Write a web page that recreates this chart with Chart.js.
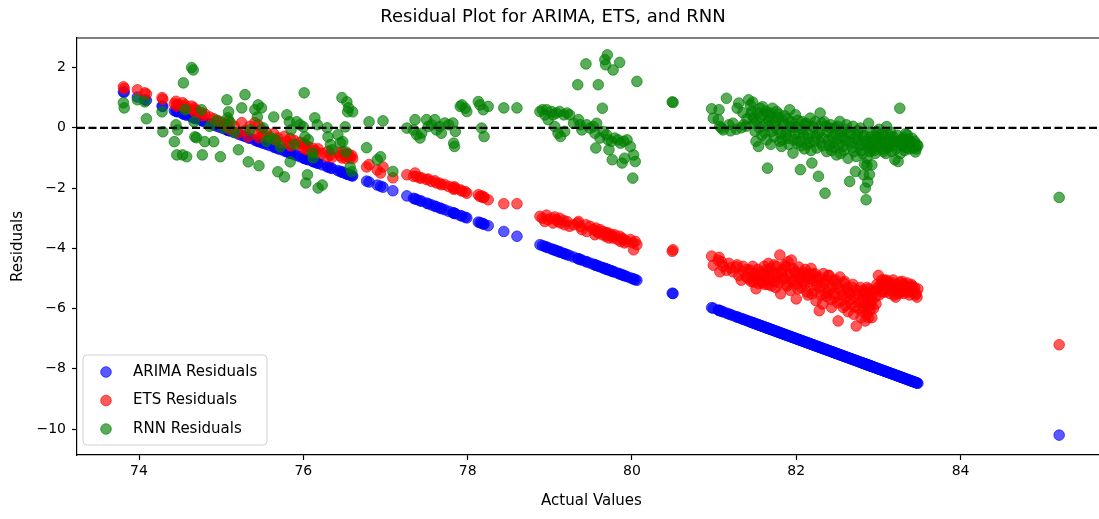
<!DOCTYPE html>
<html>
<head>
<meta charset="utf-8">
<title>Residual Plot for ARIMA, ETS, and RNN</title>
<script src="https://cdn.jsdelivr.net/npm/chart.js@4.4.0/dist/chart.umd.min.js"></script>
<style>
  html, body { margin: 0; padding: 0; background: #fff; overflow: hidden; }
  #wrap { width: 1184px; height: 519px; }
</style>
</head>
<body>
<div id="wrap"><canvas id="chart" width="1184" height="519"></canvas></div>
<script>
// actual values (x) shared by the three residual series
const actualValues = [
  73.81, 73.82, 73.98, 74.07, 74.09, 74.28, 74.29,
  74.43, 74.45, 74.46, 74.47, 74.53, 74.54, 74.56, 74.58, 74.64, 74.66,
  74.67, 74.68, 74.70, 74.76, 74.77, 74.80, 74.86, 74.91, 74.95, 74.99,
  75.03, 75.07, 75.08, 75.09, 75.11, 75.16, 75.21, 75.25, 75.29, 75.33,
  75.35, 75.41, 75.44, 75.45, 75.46, 75.49, 75.51, 75.55, 75.59, 75.64,
  75.66, 75.69, 75.72, 75.77, 75.80, 75.83, 75.84, 75.85, 75.89, 75.92,
  75.96, 76.00, 76.01, 76.02, 76.03, 76.05, 76.06, 76.11, 76.12, 76.14,
  76.17, 76.18, 76.23, 76.29, 76.30, 76.33, 76.35, 76.42, 76.45, 76.47,
  76.48, 76.51, 76.52, 76.53, 76.54, 76.55, 76.57, 76.59, 76.60,
  76.77, 76.80, 76.90, 76.94, 76.97, 77.09,
  77.26, 77.34, 77.36, 77.38, 77.42, 77.44, 77.50, 77.52, 77.56, 77.60,
  77.62, 77.66, 77.68, 77.72, 77.77, 77.82, 77.83, 77.84, 77.85, 77.91,
  77.93, 77.97, 77.99, 78.13, 78.15, 78.17, 78.19, 78.20, 78.25,
  78.44, 78.60,
  78.88, 78.91, 78.94, 78.96, 78.98, 79.02, 79.04, 79.06, 79.08, 79.10,
  79.12, 79.13, 79.17, 79.18, 79.21, 79.24, 79.29, 79.34, 79.35, 79.37,
  79.39, 79.44, 79.45, 79.49, 79.53, 79.55, 79.56, 79.57, 79.59, 79.61,
  79.64, 79.65, 79.67, 79.68, 79.69, 79.70, 79.71, 79.72, 79.75, 79.76,
  79.77, 79.79, 79.83, 79.85, 79.86, 79.88, 79.90, 79.91, 79.94, 79.98,
  80.01, 80.02, 80.04, 80.06,
  80.49, 80.50,
  80.97, 80.99, 81.05, 81.07, 81.09, 81.11, 81.15, 81.18, 81.23, 81.27,
  81.30, 81.33, 81.36, 81.39, 81.42, 81.44, 81.46, 81.48, 81.50, 81.51,
  81.52, 81.54, 81.56, 81.58, 81.60, 81.62, 81.64, 81.65, 81.66, 81.68,
  81.69, 81.70, 81.72, 81.74, 81.76, 81.78, 81.80, 81.81, 81.82, 81.84,
  81.86, 81.88, 81.90, 81.92, 81.93, 81.94, 81.96, 81.97, 81.99, 82.00,
  82.01, 82.03, 82.05, 82.06, 82.07, 82.09, 82.11, 82.13, 82.15, 82.17,
  82.18, 82.19, 82.21, 82.23, 82.24, 82.25, 82.27, 82.28, 82.29, 82.31,
  82.32, 82.33, 82.35, 82.36, 82.37, 82.39, 82.41, 82.43, 82.45, 82.47,
  82.49, 82.51, 82.53, 82.54, 82.55, 82.57, 82.59, 82.61, 82.62, 82.63,
  82.65, 82.67, 82.69, 82.70, 82.72, 82.73, 82.74, 82.76, 82.78, 82.79,
  82.80, 82.82, 82.83, 82.84, 82.85, 82.86, 82.86, 82.87, 82.88, 82.89,
  82.90, 82.91, 82.92, 82.93, 82.94, 82.96, 82.98, 83.00, 83.02, 83.04,
  83.06, 83.08, 83.10, 83.11, 83.12, 83.14, 83.16, 83.18, 83.20, 83.21,
  83.22, 83.24, 83.25, 83.26, 83.28, 83.30, 83.32, 83.35, 83.37, 83.39,
  83.41, 83.43, 83.45, 83.47, 83.48,
  81.06, 81.20, 81.28, 81.35, 81.40, 81.45, 81.47, 81.49, 81.53, 81.55,
  81.57, 81.59, 81.61, 81.63, 81.66, 81.67, 81.71, 81.73, 81.75, 81.77,
  81.79, 81.83, 81.85, 81.87, 81.89, 81.91, 81.95, 81.98, 82.02, 82.04,
  82.08, 82.10, 82.12, 82.14, 82.16, 82.20, 82.22, 82.26, 82.30, 82.34,
  82.38, 82.40, 82.42, 82.44, 82.46, 82.48, 82.50, 82.52, 82.56, 82.58,
  82.60, 82.64, 82.66, 82.68, 82.71, 82.75, 82.77, 82.81, 82.81, 82.83,
  82.85, 82.87, 82.88, 82.90, 82.92, 82.95, 82.97, 82.99, 83.01, 83.03,
  83.05, 83.07, 83.09, 83.13, 83.15, 83.17, 83.19, 83.23, 83.27, 83.29,
  83.31, 83.33, 83.34, 83.36, 83.38, 83.40, 83.42, 83.44, 83.46,
  85.20
];

const arimaResiduals = [
  1.19, 1.18, 1.02, 0.93, 0.91, 0.72, 0.71,
  0.57, 0.55, 0.54, 0.53, 0.47, 0.46, 0.44, 0.42, 0.36, 0.34,
  0.33, 0.32, 0.30, 0.24, 0.23, 0.20, 0.14, 0.09, 0.05, 0.01,
  -0.03, -0.07, -0.08, -0.09, -0.11, -0.16, -0.21, -0.25, -0.29, -0.33,
  -0.35, -0.41, -0.44, -0.45, -0.46, -0.49, -0.51, -0.55, -0.59, -0.64,
  -0.66, -0.69, -0.72, -0.77, -0.80, -0.83, -0.84, -0.85, -0.89, -0.92,
  -0.96, -1.00, -1.01, -1.02, -1.03, -1.05, -1.06, -1.11, -1.12, -1.14,
  -1.17, -1.18, -1.23, -1.29, -1.30, -1.33, -1.35, -1.42, -1.45, -1.47,
  -1.48, -1.51, -1.52, -1.53, -1.54, -1.55, -1.57, -1.59, -1.60,
  -1.77, -1.80, -1.90, -1.94, -1.97, -2.09,
  -2.26, -2.34, -2.36, -2.38, -2.42, -2.44, -2.50, -2.52, -2.56, -2.60,
  -2.62, -2.66, -2.68, -2.72, -2.77, -2.82, -2.83, -2.84, -2.85, -2.91,
  -2.93, -2.97, -2.99, -3.13, -3.15, -3.17, -3.19, -3.20, -3.25,
  -3.44, -3.60,
  -3.88, -3.91, -3.94, -3.96, -3.98, -4.02, -4.04, -4.06, -4.08, -4.10,
  -4.12, -4.13, -4.17, -4.18, -4.21, -4.24, -4.29, -4.34, -4.35, -4.37,
  -4.39, -4.44, -4.45, -4.49, -4.53, -4.55, -4.56, -4.57, -4.59, -4.61,
  -4.64, -4.65, -4.67, -4.68, -4.69, -4.70, -4.71, -4.72, -4.75, -4.76,
  -4.77, -4.79, -4.83, -4.85, -4.86, -4.88, -4.90, -4.91, -4.94, -4.98,
  -5.01, -5.02, -5.04, -5.06,
  -5.49, -5.50,
  -5.97, -5.99, -6.05, -6.07, -6.09, -6.11, -6.15, -6.18, -6.23, -6.27,
  -6.30, -6.33, -6.36, -6.39, -6.42, -6.44, -6.46, -6.48, -6.50, -6.51,
  -6.52, -6.54, -6.56, -6.58, -6.60, -6.62, -6.64, -6.65, -6.66, -6.68,
  -6.69, -6.70, -6.72, -6.74, -6.76, -6.78, -6.80, -6.81, -6.82, -6.84,
  -6.86, -6.88, -6.90, -6.92, -6.93, -6.94, -6.96, -6.97, -6.99, -7.00,
  -7.01, -7.03, -7.05, -7.06, -7.07, -7.09, -7.11, -7.13, -7.15, -7.17,
  -7.18, -7.19, -7.21, -7.23, -7.24, -7.25, -7.27, -7.28, -7.29, -7.31,
  -7.32, -7.33, -7.35, -7.36, -7.37, -7.39, -7.41, -7.43, -7.45, -7.47,
  -7.49, -7.51, -7.53, -7.54, -7.55, -7.57, -7.59, -7.61, -7.62, -7.63,
  -7.65, -7.67, -7.69, -7.70, -7.72, -7.73, -7.74, -7.76, -7.78, -7.79,
  -7.80, -7.82, -7.83, -7.84, -7.85, -7.86, -7.86, -7.87, -7.88, -7.89,
  -7.90, -7.91, -7.92, -7.93, -7.94, -7.96, -7.98, -8.00, -8.02, -8.04,
  -8.06, -8.08, -8.10, -8.11, -8.12, -8.14, -8.16, -8.18, -8.20, -8.21,
  -8.22, -8.24, -8.25, -8.26, -8.28, -8.30, -8.32, -8.35, -8.37, -8.39,
  -8.41, -8.43, -8.45, -8.47, -8.48,
  -6.06, -6.20, -6.28, -6.35, -6.40, -6.45, -6.47, -6.49, -6.53, -6.55,
  -6.57, -6.59, -6.61, -6.63, -6.66, -6.67, -6.71, -6.73, -6.75, -6.77,
  -6.79, -6.83, -6.85, -6.87, -6.89, -6.91, -6.95, -6.98, -7.02, -7.04,
  -7.08, -7.10, -7.12, -7.14, -7.16, -7.20, -7.22, -7.26, -7.30, -7.34,
  -7.38, -7.40, -7.42, -7.44, -7.46, -7.48, -7.50, -7.52, -7.56, -7.58,
  -7.60, -7.64, -7.66, -7.68, -7.71, -7.75, -7.77, -7.81, -7.81, -7.83,
  -7.85, -7.87, -7.88, -7.90, -7.92, -7.95, -7.97, -7.99, -8.01, -8.03,
  -8.05, -8.07, -8.09, -8.13, -8.15, -8.17, -8.19, -8.23, -8.27, -8.29,
  -8.31, -8.33, -8.34, -8.36, -8.38, -8.40, -8.42, -8.44, -8.46,
  -10.20
];

const etsResiduals = [
  1.36, 1.30, 1.26, 1.16, 1.12, 1.00, 0.95,
  0.80, 0.88, 0.72, 0.78, 0.83, 0.70, 0.76, 0.64, 0.72, 0.60,
  0.66, 0.52, 0.58, 0.50, 0.40, 0.46, 0.36, 0.30, 0.22, 0.20,
  0.12, 0.10, 0.02, 0.24, -0.05, 0.05, -0.17, 0.17, -0.10, -0.30,
  0.05, 0.17, -0.20, 0.10, -0.33, -0.05, -0.25, -0.15, -0.33, -0.20,
  -0.40, -0.33, -0.50, -0.28, -0.45, -0.56, -0.35, -0.60, -0.42, -0.56,
  -0.48, -0.65, -0.52, -0.70, -0.58, -0.73, -0.62, -0.80, -0.68, -0.76,
  -0.83, -0.70, -0.85, -0.96, -0.78, -0.90, -0.98, -0.82, -0.93, -1.00,
  -0.80, -0.90, -1.02, -0.86, -0.95, -0.88, -1.00, -0.92, -1.02,
  -1.30, -1.22, -1.40, -1.50, -1.30, -1.66,
  -1.56, -1.61, -1.50, -1.62, -1.67, -1.66, -1.72, -1.70, -1.78, -1.76,
  -1.83, -1.84, -1.89, -1.88, -1.95, -1.98, -2.04, -1.96, -2.02, -2.06,
  -2.10, -2.12, -2.17, -2.22, -2.28, -2.26, -2.32, -2.30, -2.39,
  -2.52, -2.52,
  -2.94, -3.00, -3.11, -2.90, -3.05, -3.00, -3.16, -2.96, -3.05, -3.11,
  -3.00, -3.16, -3.08, -3.22, -3.11, -3.27, -3.22, -3.16, -3.11, -3.27,
  -3.38, -3.22, -3.44, -3.27, -3.38, -3.55, -3.33, -3.44, -3.49, -3.38,
  -3.55, -3.44, -3.49, -3.60, -3.49, -3.55, -3.49, -3.66, -3.55, -3.60,
  -3.66, -3.55, -3.71, -3.60, -3.77, -3.66, -3.71, -3.82, -3.77, -3.71,
  -3.82, -4.05, -3.77, -3.88,
  -4.10, -4.05,
  -4.26, -4.56, -4.40, -4.78, -4.45, -4.60, -4.73, -4.50, -4.78, -4.62,
  -4.90, -5.06, -4.78, -4.95, -5.01, -4.73, -4.95, -5.12, -4.84, -5.34,
  -5.00, -5.17, -4.90, -5.10, -4.85, -5.20, -4.70, -5.05, -4.50, -4.95,
  -4.67, -5.25, -4.84, -5.10, -4.60, -4.95, -4.22, -5.51, -4.80, -5.01,
  -4.55, -5.20, -4.45, -4.90, -5.40, -4.39, -4.67, -5.05, -4.80, -5.68,
  -5.17, -4.62, -4.95, -5.30, -4.90, -5.10, -4.70, -5.45, -4.84, -5.00,
  -4.67, -5.51, -5.06, -4.85, -5.74, -5.25, -4.95, -6.07, -5.29, -5.15,
  -5.85, -4.84, -5.51, -5.05, -5.60, -4.90, -5.35, -5.96, -5.06, -5.62,
  -5.20, -6.41, -4.95, -5.75, -5.40, -5.96, -5.10, -5.62, -5.30, -6.10,
  -5.50, -5.85, -5.20, -6.19, -5.62, -6.58, -5.40, -6.00, -5.30, -6.30,
  -5.70, -5.96, -5.45, -6.41, -5.85, -6.19, -5.30, -5.62, -6.30, -5.50,
  -5.90, -5.62, -6.30, -5.40, -6.00, -5.62, -5.20, -4.90, -5.35, -5.05,
  -5.17, -5.45, -5.06, -5.30, -5.10, -5.50, -5.29, -5.05, -5.40, -5.62,
  -5.20, -5.51, -5.30, -5.12, -5.45, -5.20, -5.35, -5.15, -5.45, -5.29,
  -5.25, -5.40, -5.55, -5.62, -5.35,
  -4.30, -4.65, -4.55, -4.60, -4.70, -5.10, -4.60, -4.90, -4.70, -5.05,
  -4.80, -5.15, -4.60, -4.95, -5.20, -4.75, -5.05, -4.55, -5.30, -4.85,
  -5.15, -4.70, -5.00, -4.60, -5.25, -4.85, -5.10, -4.75, -5.35, -5.00,
  -4.80, -5.20, -4.95, -5.55, -5.10, -4.85, -5.40, -5.00, -5.55, -5.15,
  -5.45, -4.90, -5.70, -5.25, -5.50, -5.05, -5.80, -5.35, -5.55, -5.15,
  -5.90, -5.45, -5.70, -5.30, -5.95, -5.55, -5.80, -5.40, -6.10, -5.75,
  -5.50, -5.95, -5.35, -6.05, -5.75, -5.45, -5.85, -5.30, -5.55, -5.20,
  -5.45, -5.05, -5.35, -5.20, -5.40, -5.15, -5.55, -5.30, -5.45, -5.10,
  -5.50, -5.25, -5.40, -5.30, -5.55, -5.20, -5.45, -5.30, -5.50,
  -7.20
];

const rnnResiduals = [
  0.83, 0.66, 0.93, 0.86, 0.30, 0.53, -0.13,
  -0.46, 0.10, -0.90, -0.07, -0.90, 1.49, 0.60, -0.96, 2.00, 1.92,
  0.20, -0.30, -0.33, 0.60, -0.90, -0.46, 0.05, -0.46, 0.25, -0.96,
  0.00, 0.93, 0.33, 0.53, 0.17, -0.15, -0.73, 0.66, 1.10, -1.13,
  -0.07, 0.60, 0.36, 0.76, -1.26, 0.66, 0.00, -0.45, -0.30, 0.36,
  -0.40, -1.46, -0.63, -1.63, 0.43, 0.20, -1.13, -0.07, -0.55, 0.20,
  0.10, 0.03, 1.16, -0.30, -1.83, -1.56, -0.40, -0.83, -1.00, 0.33,
  0.10, -2.00, -1.90, 0.00, -0.30, -0.56, -0.73, -0.23, -0.50, 1.00,
  -0.46, 0.03, -0.80, 0.86, 0.53, 0.66, -1.30, -1.46, 0.53,
  -0.66, 0.20, -1.06, -0.96, 0.23, -1.45,
  -0.01, -0.07, 0.27, -0.23, -0.34, -0.18, 0.27, 0.04, 0.10, 0.27,
  -0.07, 0.04, -0.18, 0.16, 0.10, 0.16, -0.51, -0.62, -0.12, 0.71,
  0.76, 0.65, 0.54, 0.87, 0.76, -0.01, 0.60, -0.29, 0.71,
  0.66, 0.66,
  0.54, 0.60, 0.43, 0.60, 0.27, 0.54, 0.43, 0.04, 0.49, -0.18,
  0.54, -0.29, 0.43, -0.12, 0.49, 0.43, 0.15, 1.43, 0.27, 0.10,
  -0.07, 2.12, 0.10, -0.01, 0.04, -0.18, -0.67, 0.15, 1.43, -0.34,
  0.65, -0.12, 2.26, 2.09, -0.23, 2.42, -0.40, -0.73, -0.45, -1.06,
  1.92, -0.34, -0.40, 2.17, -0.51, -1.17, -0.45, -1.01, -0.40, -0.62,
  -1.67, -0.90, -1.12, 1.54,
  0.86, 0.84,
  0.63, 0.32, 0.27, 0.05, -0.01, -0.07, 0.98, 0.10, 0.15, -0.05,
  0.82, 0.00, 0.10, 0.05, 0.93, 0.76, 0.55, 0.32, -0.12, -0.45,
  0.20, -0.62, 0.65, -0.25, 0.43, 0.10, -0.40, -1.34, 0.25, 0.49,
  -0.55, -0.12, 0.32, 0.05, 0.54, 0.35, -0.45, -0.20, -0.62, 0.21,
  0.40, -0.12, -0.35, 0.60, 0.04, 0.20, -0.84, -0.40, 0.43, 0.05,
  -0.51, -0.20, -1.39, -0.60, 0.21, -0.23, 0.10, -0.56, -0.35, 0.32,
  -0.75, -1.17, -0.01, 0.20, -0.30, -0.67, -1.61, -0.15, 0.49, 0.15,
  -0.60, -0.34, -2.17, 0.05, -0.79, -0.40, -0.01, -0.75, -0.51, 0.00,
  -0.90, -0.35, 0.21, -0.85, -0.12, -0.62, -0.40, 0.10, -0.15, -1.01,
  -1.78, -0.50, 0.05, -0.79, -1.45, -0.95, -0.23, -0.40, -0.01, -0.75,
  -0.56, -1.56, -0.25, -2.00, -2.39, -1.25, -1.01, -0.55, 0.15, -1.55,
  -0.79, -0.30, -1.23, -0.70, -0.40, -0.85, -0.12, -0.35, -0.56, -0.20,
  -0.79, -0.50, 0.04, -0.65, -0.23, -0.40, -0.79, -0.30, -1.06, -0.70,
  -0.45, -1.12, -0.50, 0.65, -0.60, -0.34, -0.75, -0.23, -0.55, -0.45,
  -0.35, -0.67, -0.80, -0.56, -0.60,
  0.60, -0.10, 0.65, 0.50, 0.30, 0.45, 0.85, 0.15, 0.50, 0.00,
  0.35, 0.70, -0.15, 0.55, 0.05, 0.40, 0.65, -0.30, 0.20, -0.05,
  0.45, -0.40, 0.10, -0.25, 0.30, -0.55, 0.00, -0.20, 0.25, -0.45,
  -0.05, -0.70, 0.15, -0.20, -0.50, 0.05, -0.45, -0.20, -0.50, 0.20,
  -0.15, -0.60, 0.10, -0.30, -0.65, -0.20, 0.05, -0.55, -0.30, -0.75,
  -0.05, -0.45, -0.20, -0.65, -0.35, -0.10, -0.60, -0.85, -0.30, -1.20,
  -0.45, -1.80, -0.65, -0.15, -0.50, -0.75, -0.30, -0.60, -0.05, -0.45,
  -0.70, -0.25, -0.85, -0.55, -0.15, -0.60, -0.45, -0.25, -0.85, -0.40,
  -0.55, -0.20, -0.65, -0.40, -0.70, -0.50, -0.55, -0.45, -0.70,
  -2.31
];

const seriesNames = ['ARIMA Residuals', 'ETS Residuals', 'RNN Residuals'];
const xTicks = [74, 76, 78, 80, 82, 84];
const yTicks = [-10, -8, -6, -4, -2, 0, 2];
const zeroLine = 0;

const seriesColors = ['rgba(0, 0, 255, 0.65)', 'rgba(255, 0, 0, 0.65)', 'rgba(0, 128, 0, 0.65)'];
const residualSets = [arimaResiduals, etsResiduals, rnnResiduals];

Chart.defaults.font.family = "'DejaVu Sans', sans-serif";
Chart.defaults.color = '#000';

const datasets = residualSets.map((res, i) => ({
  label: seriesNames[i],
  data: actualValues.map((x, j) => ({ x: x, y: res[j] })),
  backgroundColor: seriesColors[i],
  borderColor: seriesColors[i],
  pointRadius: 5.3,
  pointHoverRadius: 5.3,
  pointBorderWidth: 1,
  order: 3 - i   // green on top, blue at the bottom
}));

// dashed zero line, top spine and the boxed legend inside the axes
const residualDecor = {
  id: 'residualDecor',
  afterDatasetsDraw(chart) {
    const { ctx, chartArea } = chart;
    const y0 = chart.scales.y.getPixelForValue(zeroLine);
    ctx.save();
    ctx.beginPath();
    ctx.setLineDash([8, 3.5]);
    ctx.lineWidth = 2.2;
    ctx.strokeStyle = '#000';
    ctx.moveTo(chartArea.left, y0);
    ctx.lineTo(chartArea.right, y0);
    ctx.stroke();
    ctx.restore();
  },
  afterDraw(chart) {
    const { ctx, chartArea } = chart;
    ctx.save();
    ctx.beginPath();
    ctx.lineWidth = 1.2;
    ctx.strokeStyle = '#000';
    ctx.moveTo(chartArea.left, chartArea.top);
    ctx.lineTo(chartArea.right, chartArea.top);
    ctx.stroke();

    const boxLeft = chartArea.left + 6;
    const boxH = 90;
    const boxTop = chartArea.bottom - 10 - boxH;
    ctx.beginPath();
    ctx.roundRect(boxLeft, boxTop, 184, boxH, 4);
    ctx.fillStyle = 'rgba(255, 255, 255, 0.8)';
    ctx.fill();
    ctx.lineWidth = 1;
    ctx.strokeStyle = '#d0d0d0';
    ctx.stroke();

    ctx.font = "15px 'DejaVu Sans'";
    ctx.textBaseline = 'middle';
    chart.data.datasets.forEach((ds, i) => {
      const cy = boxTop + 17 + i * 28.5;
      ctx.beginPath();
      ctx.arc(boxLeft + 23, cy, 5.3, 0, Math.PI * 2);
      ctx.fillStyle = ds.backgroundColor;
      ctx.fill();
      ctx.strokeStyle = ds.borderColor;
      ctx.stroke();
      ctx.fillStyle = '#000';
      ctx.fillText(ds.label, boxLeft + 50, cy);
    });
    ctx.restore();
  }
};

const minus = v => (v < 0 ? '\u2212' + Math.abs(v) : String(v));

new Chart(document.getElementById('chart'), {
  type: 'scatter',
  data: { datasets: datasets },
  options: {
    responsive: false,
    animation: false,
    devicePixelRatio: 1,
    layout: { padding: { left: 0, right: 78, top: 0, bottom: 0 } },
    plugins: {
      legend: { display: false },
      tooltip: { enabled: false },
      title: {
        display: true,
        text: 'Residual Plot for ARIMA, ETS, and RNN',
        font: { size: 18, weight: 'normal' },
        color: '#000',
        padding: { top: 7, bottom: 9.4 }
      }
    },
    scales: {
      x: {
        type: 'linear',
        min: 73.245,
        max: 85.77,
        afterBuildTicks: s => { s.ticks = xTicks.map(v => ({ value: v })); },
        afterFit: s => { s.height = 64; },
        ticks: { font: { size: 14 }, color: '#000', padding: 3, callback: minus },
        grid: { display: true, drawOnChartArea: false, drawTicks: true, tickLength: 5, tickWidth: 1.2, color: '#000' },
        border: { display: true, color: '#000', width: 1.2 },
        title: { display: true, text: 'Actual Values', font: { size: 15 }, color: '#000', padding: { top: 4, bottom: 9 } }
      },
      y: {
        type: 'linear',
        min: -10.86,
        max: 2.98,
        afterBuildTicks: s => { s.ticks = yTicks.map(v => ({ value: v })); },
        afterFit: s => { s.width = 77; },
        ticks: { font: { size: 14 }, color: '#000', padding: 6, callback: minus },
        grid: { display: true, drawOnChartArea: false, drawTicks: true, tickLength: 5, tickWidth: 1.2, color: '#000' },
        border: { display: true, color: '#000', width: 1.2 },
        title: { display: true, text: 'Residuals', font: { size: 15 }, color: '#000', padding: { top: 9, bottom: 4 } }
      }
    }
  },
  plugins: [residualDecor]
});
</script>
</body>
</html>
